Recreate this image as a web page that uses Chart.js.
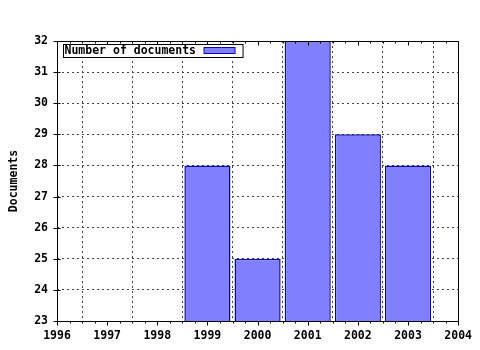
<!DOCTYPE html>
<html>
<head>
<meta charset="utf-8">
<script src="https://cdn.jsdelivr.net/npm/chart.js@4/dist/chart.umd.min.js"></script>
<style>
  html, body { margin: 0; padding: 0; background: #fff; }
  #wrap { width: 480px; height: 350px; }
</style>
</head>
<body>
<div id="wrap"><canvas id="c" width="480" height="350"></canvas></div>
<script>
const years = ['1996', '1997', '1998', '1999', '2000', '2001', '2002', '2003', '2004'];
const documents = [null, null, null, 28, 25, 32, 29, 28, null];
const seriesLabel = 'Number of documents';
const yAxisTitle = 'Documents';
const yMin = 23;
const yMax = 32;

const FONT = { family: "'DejaVu Sans Mono', monospace", size: 11.5, weight: 'bold' };
const BAR_FILL = '#8080ff';
const BAR_EDGE = '#0a0aa0';

const framePlugin = {
  id: 'frame',
  afterDatasetsDraw(chart) {
    const ctx = chart.ctx;
    const a = chart.chartArea;
    const xs = chart.scales.x;
    const ys = chart.scales.y;
    ctx.save();
    ctx.strokeStyle = '#000';
    ctx.lineWidth = 1;
    const L = Math.round(a.left) + 0.5, R = Math.round(a.right) + 0.5;
    const T = Math.round(a.top) + 0.5, B = Math.round(a.bottom) + 0.5;
    ctx.beginPath();
    ctx.moveTo(L, T); ctx.lineTo(R, T);
    ctx.moveTo(R, T); ctx.lineTo(R, B);
    ctx.moveTo(L, B); ctx.lineTo(R, B);
    ctx.moveTo(L, T); ctx.lineTo(L, B);
    for (let i = 0; i < years.length; i++) {
      for (let f = 0; f < 4; f++) {
        if (i === years.length - 1 && f > 0) break;
        const px = Math.round(xs.getPixelForValue(i + f / 4)) + 0.5;
        const major = f === 0;
        ctx.moveTo(px, B); ctx.lineTo(px, B + (major ? 4 : 2));
        ctx.moveTo(px, T); ctx.lineTo(px, T + (major ? 4 : 2));
      }
    }
    for (let v = yMin; v <= yMax; v++) {
      const py = Math.round(ys.getPixelForValue(v)) + 0.5;
      ctx.moveTo(L - 4, py); ctx.lineTo(L + 3, py);
    }
    ctx.stroke();

    const lx = Math.round(a.left) + 6.5, ly = Math.round(a.top) + 3.5;
    ctx.font = 'bold 11.5px "DejaVu Sans Mono", monospace';
    const tw = ctx.measureText(seriesLabel).width;
    const boxW = tw + 48, boxH = 13;
    ctx.fillStyle = '#fff';
    ctx.fillRect(lx, ly, boxW, boxH);
    ctx.strokeRect(lx, ly, boxW, boxH);
    ctx.fillStyle = '#000';
    ctx.textBaseline = 'middle';
    ctx.textAlign = 'left';
    ctx.fillText(seriesLabel, lx + 1, ly + boxH / 2 + 0.5);
    const sx = lx + tw + 9, sy = ly + 3;
    ctx.fillStyle = BAR_FILL;
    ctx.fillRect(sx, sy, 31, 6);
    ctx.strokeStyle = BAR_EDGE;
    ctx.strokeRect(sx, sy, 31, 6);
    ctx.restore();
  }
};

new Chart(document.getElementById('c'), {
  type: 'bar',
  data: {
    labels: years,
    datasets: [{
      label: seriesLabel,
      data: documents,
      backgroundColor: BAR_FILL,
      borderColor: BAR_EDGE,
      borderWidth: 1.5,
      borderSkipped: false,
      barPercentage: 0.92,
      categoryPercentage: 1.0
    }]
  },
  options: {
    responsive: false,
    animation: false,
    devicePixelRatio: 1,
    layout: { padding: { top: 41, right: 21, left: 0, bottom: 0 } },
    plugins: { legend: { display: false }, tooltip: { enabled: false } },
    scales: {
      x: {
        type: 'category',
        offset: false,
        grid: { display: true, drawTicks: false, color: '#444', lineWidth: 1 },
        border: { display: false, dash: [2, 3] },
        ticks: { color: '#000', font: FONT, padding: 8, maxRotation: 0, autoSkip: false },
        afterFit(s) { s.height = 29; }
      },
      y: {
        min: yMin,
        max: yMax,
        grid: { display: true, drawTicks: false, color: '#444', lineWidth: 1 },
        border: { display: false, dash: [2, 3] },
        ticks: { color: '#000', font: FONT, padding: 9, stepSize: 1 },
        title: { display: true, text: yAxisTitle, color: '#000', font: FONT, padding: { top: 7, bottom: 0 } },
        afterFit(s) { s.width = 57; }
      }
    }
  },
  plugins: [framePlugin]
});
</script>
</body>
</html>
